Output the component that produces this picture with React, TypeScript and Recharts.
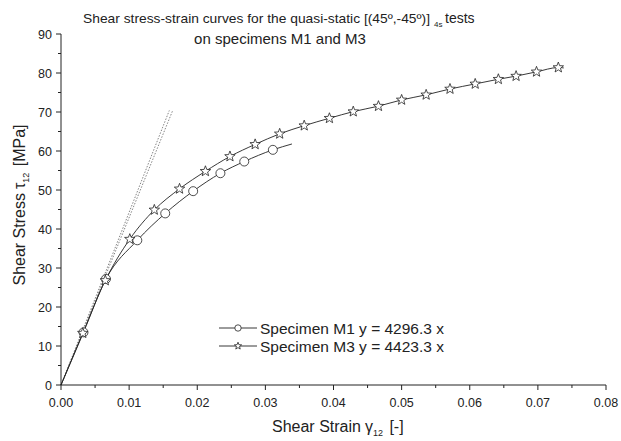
import React from 'react';
import { LineChart, Line, XAxis, YAxis } from 'recharts';

// strain [-] and shear stress [MPa]
const strainM1 = [0, 0.0033, 0.0066, 0.0112, 0.0153, 0.0194, 0.0234, 0.0269, 0.0311, 0.0339];
const stressM1 = [0, 13.5, 27.2, 37.1, 44.0, 49.7, 54.3, 57.3, 60.3, 61.8];

const strainM3 = [
  0, 0.0032, 0.0065, 0.0101, 0.0137, 0.0174, 0.0212, 0.0248, 0.0285, 0.0321, 0.0357, 0.0394,
  0.0429, 0.0466, 0.05, 0.0536, 0.0571, 0.0608, 0.0642, 0.0668, 0.0698, 0.073, 0.0738,
];
const stressM3 = [
  0, 13.3, 26.8, 37.4, 44.9, 50.3, 54.8, 58.6, 61.7, 64.4, 66.5, 68.4,
  70.1, 71.5, 73.1, 74.4, 75.9, 77.2, 78.4, 79.2, 80.3, 81.4, 81.3,
];

// linear fits (dotted), end points
const fitStrainM1 = [0, 0.0164];
const fitStressM1 = [0, 70.4];
const fitStrainM3 = [0, 0.0159];
const fitStressM3 = [0, 70.4];

const xTicks = [0, 0.005, 0.01, 0.015, 0.02, 0.025, 0.03, 0.035, 0.04, 0.045, 0.05, 0.055, 0.06, 0.065, 0.07, 0.075, 0.08];
const yTicks = [0, 5, 10, 15, 20, 25, 30, 35, 40, 45, 50, 55, 60, 65, 70, 75, 80, 85, 90];

const legendLabels = ['Specimen M1 y = 4296.3 x', 'Specimen M3 y = 4423.3 x'];

const toPoints = (xs: number[], ys: number[]) => xs.map((x, i) => ({ x, y: ys[i] }));

const dataM1 = toPoints(strainM1, stressM1);
const dataM3 = toPoints(strainM3, stressM3);
const fitM1 = toPoints(fitStrainM1, fitStressM1);
const fitM3 = toPoints(fitStrainM3, fitStressM3);

const FONT = '"Liberation Sans", Arial, sans-serif';
const INK = '#222';

const starPath = (cx: number, cy: number, r: number) => {
  const pts: string[] = [];
  for (let i = 0; i < 10; i++) {
    const rad = i % 2 === 0 ? r : r * 0.42;
    const a = -Math.PI / 2 + (i * Math.PI) / 5;
    pts.push(`${(cx + rad * Math.cos(a)).toFixed(2)},${(cy + rad * Math.sin(a)).toFixed(2)}`);
  }
  return `M${pts.join('L')}Z`;
};

const Circle = ({ cx, cy, r = 4.5 }: any) => (
  <circle cx={cx} cy={cy} r={r} fill="#fff" stroke={INK} strokeWidth={0.8} />
);
const Star = ({ cx, cy, r = 5.5 }: any) => (
  <path d={starPath(cx, cy, r)} fill="#fff" stroke={INK} strokeWidth={0.8} />
);

// markers on every point except the origin and the loose end of the curve
const markerDot = (Shape: any, last: number) => (p: any) =>
  p.index === 0 || p.index === last ? (
    <g key={`d${p.index}`} />
  ) : (
    <Shape key={`d${p.index}`} cx={p.cx} cy={p.cy} />
  );

const XTick = ({ x, y, payload }: any) => {
  const major = Math.round(payload.value * 1000) % 10 === 0;
  return (
    <g>
      <line x1={x} x2={x} y1={y} y2={y + (major ? 5 : 3)} stroke={INK} />
      {major && (
        <text x={x} y={y + 22} textAnchor="middle" fontSize={12.5} fontFamily={FONT} fill={INK}>
          {payload.value.toFixed(2)}
        </text>
      )}
    </g>
  );
};

const YTick = ({ x, y, payload }: any) => {
  const major = payload.value % 10 === 0;
  return (
    <g>
      <line x1={x} x2={x - (major ? 5 : 3)} y1={y} y2={y} stroke={INK} />
      {major && (
        <text x={x - 9} y={y + 4.5} textAnchor="end" fontSize={12.5} fontFamily={FONT} fill={INK}>
          {payload.value}
        </text>
      )}
    </g>
  );
};

export default function App() {
  return (
    <div style={{ position: 'absolute', left: 0, top: 0, width: 621, height: 441, background: '#fff' }}>
      <LineChart width={621} height={441} margin={{ top: 34, right: 15, bottom: 26, left: 0 }}>
        <XAxis
          type="number"
          dataKey="x"
          domain={[0, 0.08]}
          ticks={xTicks}
          interval={0}
          height={30}
          tickSize={0}
          tickMargin={0}
          tickLine={false}
          tick={<XTick />}
          axisLine={{ stroke: INK }}
        />
        <YAxis
          type="number"
          dataKey="y"
          domain={[0, 90]}
          ticks={yTicks}
          interval={0}
          width={61}
          tickSize={0}
          tickMargin={0}
          tickLine={false}
          tick={<YTick />}
          axisLine={{ stroke: INK }}
        />
        <Line data={fitM1} dataKey="y" stroke="#777" strokeWidth={0.9} strokeDasharray="1.5 1.5" dot={false} isAnimationActive={false} />
        <Line data={fitM3} dataKey="y" stroke="#777" strokeWidth={0.9} strokeDasharray="1.5 1.5" dot={false} isAnimationActive={false} />
        <Line
          data={dataM1}
          dataKey="y"
          type="monotone"
          stroke={INK}
          strokeWidth={0.9}
          dot={markerDot(Circle, dataM1.length - 1)}
          isAnimationActive={false}
        />
        <Line
          data={dataM3}
          dataKey="y"
          type="monotone"
          stroke={INK}
          strokeWidth={0.9}
          dot={markerDot(Star, dataM3.length - 1)}
          isAnimationActive={false}
        />
      </LineChart>
      <svg
        width={621}
        height={441}
        style={{ position: 'absolute', left: 0, top: 0, pointerEvents: 'none' }}
        fontFamily={FONT}
        fill={INK}
      >
        <text x={83} y={22.5} fontSize={13.5} textLength={347} lengthAdjust="spacingAndGlyphs">
          Shear stress-strain curves for the quasi-static [(45º,-45º)]
        </text>
        <text x={434} y={27} fontSize={8}>
          4s
        </text>
        <text x={445} y={22.5} fontSize={14}>
          tests
        </text>
        <text x={280} y={43.5} textAnchor="middle" fontSize={15}>
          on specimens M1 and M3
        </text>
        <text x={272} y={432} fontSize={16}>
          Shear Strain<tspan dx={4}>γ</tspan>
          <tspan fontSize={9} dy={4}>12</tspan>
          <tspan dy={-4} dx={2}> [-]</tspan>
        </text>
        <text x={25} y={205} textAnchor="middle" fontSize={16} transform="rotate(-90 25 205)">
          Shear Stress<tspan dx={4}>τ</tspan>
          <tspan fontSize={9} dy={4}>12</tspan>
          <tspan dy={-4} dx={2}> [MPa]</tspan>
        </text>
        {legendLabels.map((label, i) => {
          const cy = 328 + i * 18;
          return (
            <g key={label}>
              <line x1={219} x2={257} y1={cy} y2={cy} stroke={INK} strokeWidth={0.9} />
              {i === 0 ? <Circle cx={238} cy={cy} r={3.2} /> : <Star cx={238} cy={cy} r={3.8} />}
              <text x={260} y={cy + 5.5} fontSize={15.5}>
                {label}
              </text>
            </g>
          );
        })}
      </svg>
    </div>
  );
}
